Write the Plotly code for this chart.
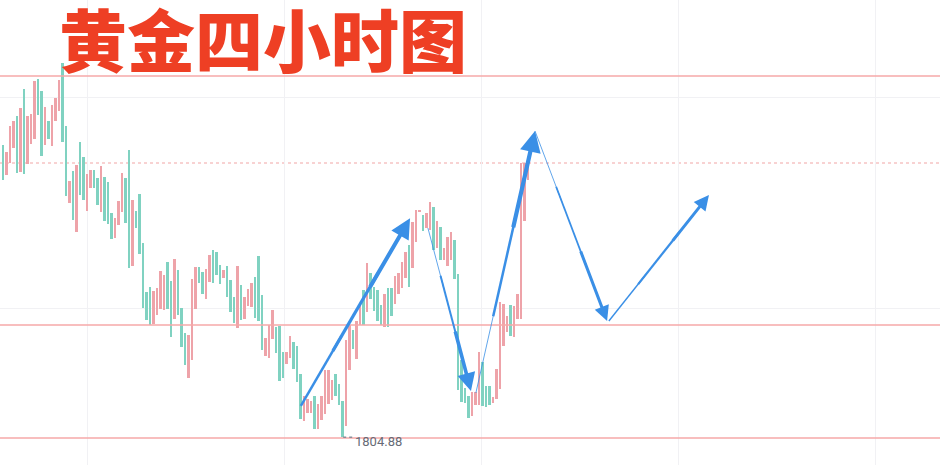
import plotly.graph_objects as go

# ---- data (gold, 4-hour bars) ----
highs = [1839.34, 1838.51, 1841.58, 1842.17, 1842.76, 1843.70, 1845.94, 1842.76, 1842.99, 1846.89,
         1847.12, 1845.71, 1843.82, 1842.17, 1844.06, 1844.88, 1847.00, 1849.01, 1841.58, 1835.09,
         1836.27, 1836.98, 1839.69, 1837.92, 1835.92, 1836.39, 1836.39, 1835.45, 1836.86, 1835.57,
         1834.98, 1831.32, 1830.73, 1832.74, 1836.04, 1835.45, 1838.75, 1832.85, 1831.56, 1833.56,
         1827.78, 1822.00, 1822.59, 1822.12, 1822.48, 1824.48, 1824.01, 1825.54, 1823.30, 1825.90,
         1824.60, 1820.12, 1817.17, 1816.93, 1823.54, 1824.95, 1824.95, 1824.36, 1824.72, 1826.37,
         1826.96, 1826.72, 1825.19, 1824.60, 1825.07, 1823.42, 1821.42, 1825.07, 1822.83, 1821.42,
         1822.36, 1823.07, 1823.77, 1826.25, 1821.65, 1816.58, 1818.11, 1819.88, 1817.88, 1818.00,
         1814.93, 1814.93, 1816.82, 1816.11, 1815.64, 1812.34, 1809.74, 1809.39, 1809.15, 1809.74,
         1808.80, 1809.74, 1812.81, 1812.81, 1811.63, 1812.34, 1811.16, 1809.15, 1816.34, 1818.11,
         1817.52, 1818.58, 1820.59, 1822.24, 1825.42, 1824.25, 1822.59, 1822.24, 1820.47, 1821.77,
         1822.48, 1822.48, 1823.89, 1824.25, 1825.54, 1826.72, 1827.55, 1830.26, 1831.67, 1831.67,
         1831.08, 1831.32, 1832.62, 1832.03, 1830.38, 1829.67, 1827.19, 1828.49, 1829.08, 1828.14,
         1824.13, 1813.99, 1810.68, 1809.74, 1810.21, 1810.21, 1814.93, 1813.75, 1810.92, 1810.92,
         1809.62, 1812.92, 1820.83, 1820.59, 1819.17, 1820.47, 1820.35, 1821.77, 1837.22, 1837.22,
         1837.22]
lows = [1835.21, 1835.80, 1837.22, 1838.99, 1836.04, 1836.16, 1835.92, 1837.10, 1839.46, 1840.05,
        1842.88, 1838.04, 1839.34, 1840.05, 1839.22, 1842.17, 1843.35, 1839.69, 1833.32, 1832.50,
        1830.49, 1829.08, 1833.44, 1832.85, 1831.56, 1834.27, 1834.27, 1832.26, 1831.44, 1830.38,
        1830.02, 1828.25, 1828.37, 1829.91, 1831.44, 1830.14, 1824.83, 1825.07, 1829.55, 1826.49,
        1820.12, 1818.70, 1818.11, 1818.23, 1819.29, 1820.00, 1819.88, 1820.00, 1816.70, 1818.82,
        1819.29, 1815.52, 1813.40, 1811.86, 1813.99, 1820.00, 1823.07, 1821.77, 1821.18, 1823.18,
        1823.07, 1824.01, 1822.95, 1823.66, 1821.42, 1819.65, 1818.35, 1817.76, 1818.70, 1818.82,
        1820.35, 1820.24, 1818.94, 1818.58, 1815.17, 1814.46, 1814.22, 1816.46, 1814.81, 1811.51,
        1811.86, 1813.51, 1814.22, 1812.92, 1811.39, 1807.03, 1806.79, 1807.74, 1807.74, 1805.85,
        1805.85, 1806.91, 1807.62, 1808.80, 1809.27, 1809.74, 1808.68, 1804.88, 1806.20, 1812.81,
        1815.28, 1814.10, 1818.11, 1818.11, 1819.65, 1821.18, 1819.76, 1818.58, 1818.11, 1817.88,
        1817.88, 1819.17, 1820.59, 1821.77, 1822.48, 1823.66, 1822.59, 1824.83, 1827.90, 1831.44,
        1829.20, 1829.55, 1829.32, 1826.96, 1827.19, 1825.78, 1825.78, 1825.07, 1825.78, 1823.54,
        1810.45, 1809.03, 1808.92, 1807.15, 1807.38, 1808.68, 1808.68, 1808.56, 1808.44, 1808.68,
        1808.92, 1809.39, 1810.57, 1815.64, 1817.29, 1816.82, 1816.70, 1818.82, 1818.82, 1830.38,
        1835.21]
# 1 = pink (rising) bar, 0 = teal (falling) bar
rising = [0, 1, 1, 1, 0, 1, 0, 1, 1, 1,
          0, 0, 1, 0, 1, 1, 1, 0, 0, 1,
          0, 1, 0, 0, 1, 1, 0, 0, 1, 0,
          0, 0, 1, 1, 1, 0, 0, 1, 0, 0,
          0, 0, 0, 1, 1, 1, 1, 0, 0, 1,
          0, 0, 0, 1, 1, 1, 0, 0, 1, 1,
          0, 0, 0, 1, 0, 0, 0, 1, 0, 1,
          1, 1, 0, 0, 0, 1, 1, 1, 0, 0,
          0, 1, 1, 0, 0, 0, 1, 1, 1, 0,
          1, 1, 1, 1, 1, 0, 0, 0, 1, 1,
          0, 1, 1, 0, 1, 0, 0, 0, 0, 1,
          0, 0, 1, 1, 1, 1, 0, 1, 1, 1,
          0, 1, 1, 0, 1, 0, 1, 1, 1, 0,
          0, 0, 0, 0, 1, 1, 1, 0, 0, 0,
          1, 1, 1, 1, 1, 0, 1, 1, 1, 1,
          1]

# key levels
resistance = 1847.48
support_mid = 1818.11
support_low = 1804.79
last_price = 1837.22
low_label = "1804.88"
low_value = 1804.88
low_bar = 97

# hand-drawn wave arrows (bar index, price): start -> end
arrow_x0 = [85.1, 121.4, 135.1, 152.0, 173.1]
arrow_y0 = [1808.56, 1829.55, 1810.09, 1840.99, 1818.58]
arrow_x1 = [116.3, 133.7, 152.0, 172.6, 201.7]
arrow_y1 = [1830.70, 1810.33, 1840.99, 1818.58, 1833.44]
arrow_widths = [[2.5, 3.2, 4.0], [0.8, 2.0, 3.6], [0.8, 2.5, 4.2], [0.8, 1.8, 3.0], [1.4, 2.2, 3.0]]

title_text = "黄金四小时图"

PINK = "#eea3a9"
TEAL = "#80d2c1"
BLUE = "#3a8fe6"
LINE_RED = "#f6a9a9"

idx = list(range(len(highs)))
colors = [PINK if r else TEAL for r in rising]

fig = go.Figure()
fig.add_trace(go.Bar(
    x=idx, base=lows, y=[h - l for h, l in zip(highs, lows)],
    marker=dict(color=colors, line=dict(width=0)),
    width=0.78, showlegend=False, hoverinfo="skip",
))

for lvl in (resistance, support_mid, support_low):
    fig.add_hline(y=lvl, line=dict(color=LINE_RED, width=1.6), layer="above")
fig.add_hline(y=last_price, line=dict(color="#f6c4c4", width=1.5, dash="3px,3px"), layer="below")

# dotted leader and label for the swing low
fig.add_shape(type="line", x0=low_bar + 0.2, x1=low_bar + 2.9, y0=low_value, y1=low_value,
              line=dict(color="#8a8f99", width=1.5, dash="dot"))
fig.add_annotation(x=low_bar + 3.0, y=low_value - 0.45, text=low_label, showarrow=False,
                   xanchor="left", yanchor="middle",
                   font=dict(family="Roboto, Arial, sans-serif", size=13, color="#666b76"))

# arrows: thinner shape segments then a thick head segment, to mimic the taper
for x0, y0, x1, y1, ws in zip(arrow_x0, arrow_y0, arrow_x1, arrow_y1, arrow_widths):
    n = len(ws)
    for k, w in enumerate(ws):
        f0 = max(0.0, k / n - 0.04)
        sx = x0 + (x1 - x0) * f0
        sy = y0 + (y1 - y0) * f0
        if k < n - 1:
            f1 = (k + 1) / n + 0.04
            fig.add_shape(type="line", x0=sx, y0=sy,
                          x1=x0 + (x1 - x0) * f1, y1=y0 + (y1 - y0) * f1,
                          line=dict(color=BLUE, width=w))
        else:
            fig.add_annotation(x=x1, y=y1, ax=sx, ay=sy, xref="x", yref="y",
                               axref="x", ayref="y", text="", showarrow=True,
                               arrowhead=2, arrowsize=1.0, arrowwidth=w, arrowcolor=BLUE,
                               standoff=0, startstandoff=0)

fig.add_annotation(xref="paper", yref="paper", x=57 / 940, y=1 - 37 / 465, text=title_text,
                   showarrow=False, xanchor="left", yanchor="middle",
                   font=dict(family="Noto Sans CJK SC", size=68, color="#ee3f24", weight=900))

fig.update_layout(
    width=940, height=465, margin=dict(l=0, r=0, t=0, b=0),
    paper_bgcolor="white", plot_bgcolor="white", bargap=0,
    xaxis=dict(range=[-0.857, 267.71], showticklabels=False, ticks="",
               tickvals=[24, 80.3, 136.6, 192.9, 249.2], showgrid=True,
               gridcolor="#f1f1f4", gridwidth=1, zeroline=False, fixedrange=True),
    yaxis=dict(range=[1801.60, 1856.44], showticklabels=False, ticks="",
               tickvals=[1820, 1845], showgrid=True, gridcolor="#f1f1f4", gridwidth=1,
               zeroline=False, fixedrange=True),
)

fig.write_html("out.html", config={"displayModeBar": False},
               post_script="document.body.style.margin='0';document.body.style.overflow='hidden';")
